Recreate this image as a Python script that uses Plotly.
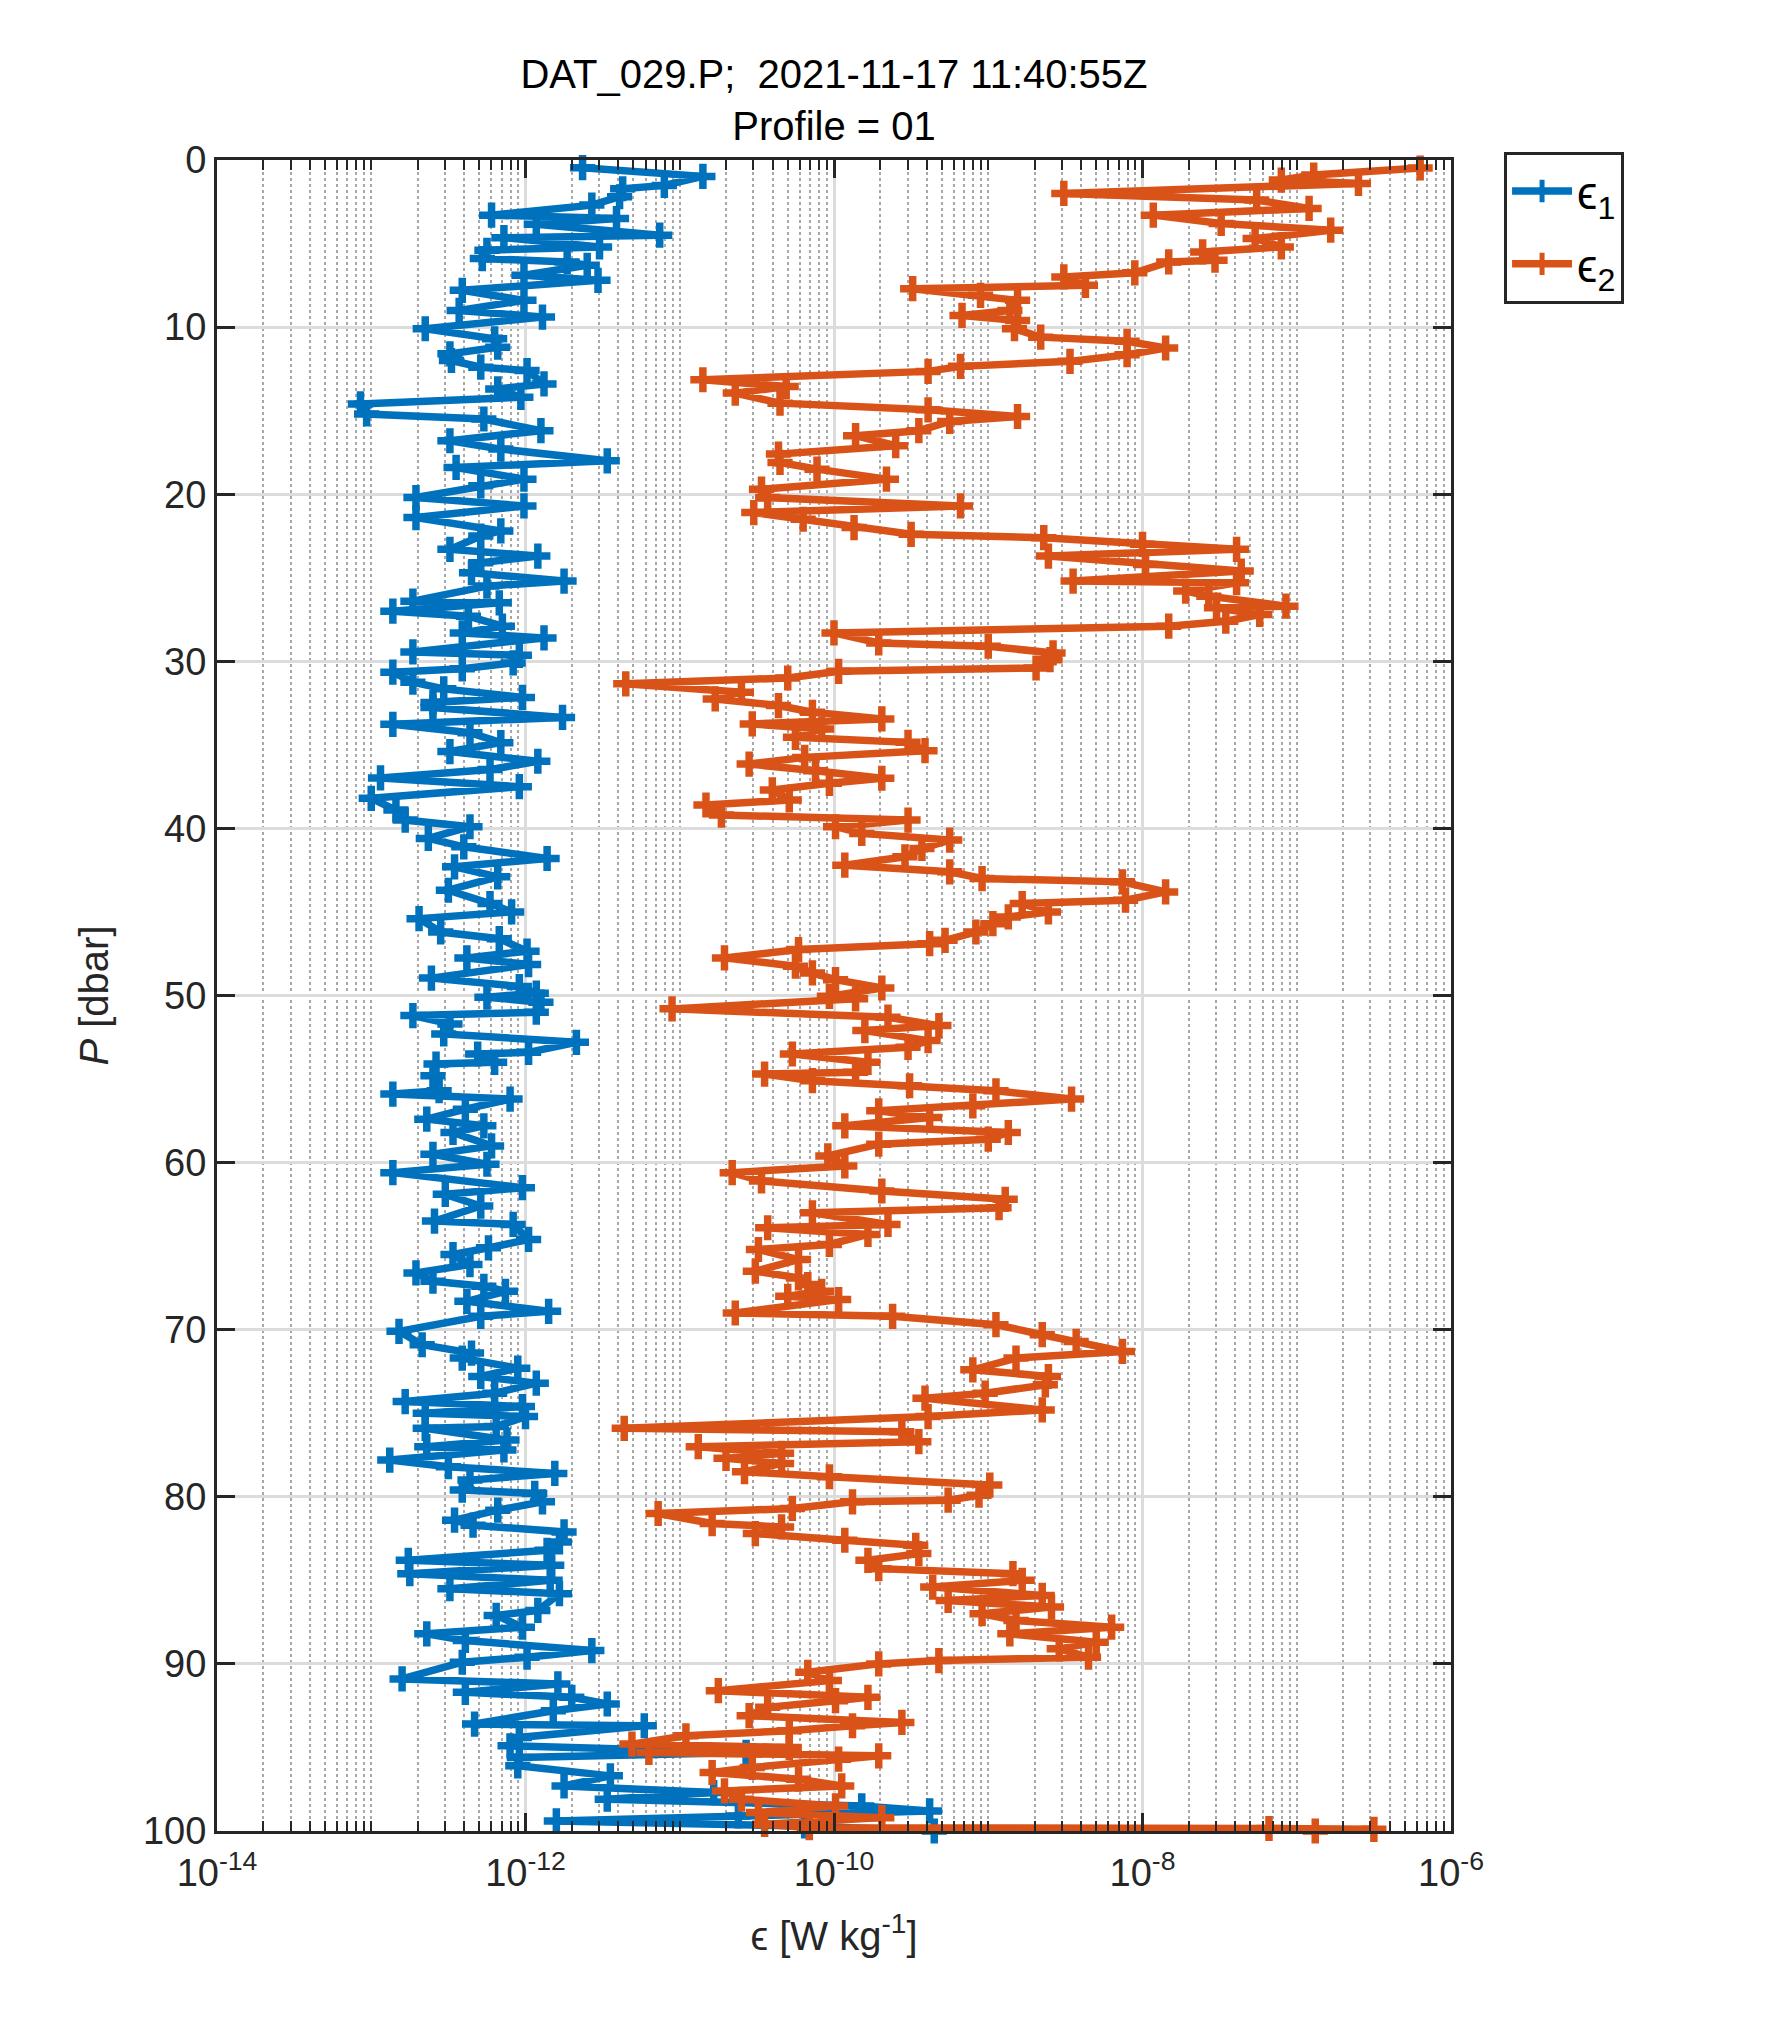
import numpy as np
import plotly.graph_objects as go

# pressure [dbar] and log10(epsilon), shear probe 1
p1 = [0.46, 0.98, 1.52, 1.72, 2.2, 2.7, 3.3, 3.5, 3.85, 4.5, 4.65, 5.2, 5.4, 5.9, 6.1, 6.3,
      6.9, 7.2, 7.8, 8.4, 9.0, 9.4, 10.1, 10.7, 11.2, 11.6, 12.0, 12.4, 12.6, 13.4, 13.7, 14.2,
      14.6, 15.2, 15.5, 16.2, 16.8, 17.3, 18.0, 18.4, 19.1, 19.5, 20.2, 20.7, 21.4, 22.2, 22.5,
      23.3, 23.7, 24.1, 24.7, 25.2, 25.5, 26.4, 26.5, 27.0, 27.3, 27.9, 28.3, 28.6, 29.44,
      29.64, 30.1, 30.45, 30.65, 31.25, 31.65, 32.16, 32.46, 32.76, 33.36, 33.77, 34.27, 34.87,
      35.4, 35.98, 36.48, 36.98, 37.5, 38.2, 38.9, 39.5, 39.9, 40.6, 41.1, 41.8, 42.3, 42.9,
      43.7, 44.5, 45.0, 45.4, 46.2, 46.6, 47.35, 47.75, 48.15, 48.96, 49.46, 49.86, 50.1, 50.4,
      51.0, 51.2, 51.7, 52.3, 52.8, 53.4, 53.5, 54.0, 54.1, 54.8, 55.7, 55.9, 56.2, 56.8, 57.4,
      57.8, 58.2, 59.0, 59.5, 60.1, 60.6, 61.5, 61.9, 62.6, 63.5, 63.7, 64.6, 65.1, 65.5, 66.1,
      66.6, 67.1, 67.4, 67.7, 68.3, 68.9, 69.2, 70.1, 70.9, 71.4, 71.7, 72.3, 72.8, 73.2, 73.8,
      74.3, 74.6, 75.0, 75.2, 75.8, 75.9, 76.6, 77.0, 77.2, 77.8, 78.2, 78.6, 79.0, 79.6, 79.8,
      80.3, 80.8, 81.4, 81.7, 82.1, 82.7, 83.2, 83.8, 84.1, 84.6, 85.0, 85.5, 85.8, 86.8, 87.1,
      87.8, 88.2, 88.6, 89.2, 89.6, 89.9, 90.9, 91.2, 91.7, 92.0, 92.4, 92.8, 93.6, 93.7, 94.4,
      94.9, 95.3, 95.6, 96.1, 96.7, 97.3, 97.7, 98.1, 98.5, 98.8, 99.1, 99.4, 99.7, 100.0]
log_e1 = [-11.63, -10.85, -11.10, -11.37, -11.39, -11.57, -12.22, -11.41, -11.93, -11.13, -12.14,
          -11.52, -12.25, -12.28, -11.73, -11.60, -12.01, -11.53, -12.41, -12.01, -12.43, -11.89,
          -12.65, -12.20, -12.18, -12.49, -12.48, -12.29, -11.99, -11.88, -12.18, -12.03, -13.07,
          -13.03, -12.27, -11.90, -12.49, -12.16, -11.47, -12.45, -12.01, -12.29, -12.71, -12.01,
          -12.71, -12.16, -12.29, -12.49, -11.92, -12.29, -12.35, -11.75, -12.25, -12.73, -12.17,
          -12.86, -12.37, -12.15, -12.41, -11.88, -12.73, -12.04, -12.08, -12.41, -12.86, -12.73,
          -12.53, -12.02, -12.60, -12.60, -11.76, -12.86, -12.36, -12.16, -12.49, -11.92, -12.23,
          -12.94, -12.04, -13.00, -12.84, -12.78, -12.36, -12.63, -12.40, -11.86, -12.46, -12.18,
          -12.50, -12.23, -12.09, -12.69, -12.55, -12.17, -11.99, -12.38, -11.98, -12.61, -12.04,
          -11.93, -12.25, -11.90, -11.93, -12.73, -12.49, -12.53, -11.67, -11.98, -12.31, -12.20,
          -12.58, -12.60, -12.56, -12.86, -12.10, -12.39, -12.64, -12.27, -12.47, -12.22, -12.60,
          -12.25, -12.86, -12.02, -12.52, -12.29, -12.59, -12.08, -11.98, -12.24, -12.47, -12.36,
          -12.71, -12.60, -12.27, -12.13, -12.38, -11.85, -12.29, -12.82, -12.67, -12.35, -12.41,
          -12.05, -12.29, -11.93, -12.20, -12.78, -12.02, -12.65, -12.00, -12.19, -12.65, -12.12,
          -12.64, -12.14, -12.88, -12.50, -11.81, -12.36, -12.41, -11.94, -11.89, -12.18, -12.46,
          -12.34, -11.75, -11.78, -11.86, -12.76, -11.83, -12.75, -11.84, -12.49, -11.78, -11.92,
          -12.19, -12.02, -12.64, -12.39, -11.57, -11.99, -12.41, -12.80, -11.79, -12.39, -11.70,
          -11.47, -11.82, -12.33, -11.23, -12.04, -12.10, -10.57, -12.04, -12.05, -11.45, -11.75,
          -10.78, -11.47, -9.82, -9.38, -10.62, -11.80, -10.19, -9.35]

# shear probe 2
p2 = [0.48, 0.9, 1.2, 1.4, 2.0, 2.4, 2.9, 3.3, 3.8, 4.2, 4.7, 5.2, 5.5, 6.0, 6.1, 6.75, 7.0,
      7.5, 7.7, 8.1, 8.4, 9.0, 9.3, 9.6, 10.1, 10.6, 10.85, 11.25, 11.65, 12.05, 12.35, 12.65,
      13.15, 13.55, 13.95, 14.55, 14.95, 15.35, 15.65, 16.2, 16.5, 17.1, 17.6, 18.1, 18.5, 19.1,
      19.7, 20.2, 20.7, 21.1, 21.5, 22.0, 22.4, 22.6, 23.0, 23.3, 23.7, 24.2, 24.6, 25.2, 25.3,
      25.8, 26.1, 26.7, 26.8, 27.2, 27.6, 27.9, 28.3, 28.9, 29.1, 29.5, 29.9, 30.4, 30.6, 31.0,
      31.35, 31.85, 32.25, 32.65, 33.05, 33.45, 33.75, 34.05, 34.55, 34.85, 35.35, 35.75, 36.15,
      36.55, 37.0, 37.3, 37.7, 38.3, 38.6, 39.2, 39.5, 39.9, 40.3, 40.7, 41.2, 41.7, 42.2, 42.6,
      43.0, 43.2, 43.8, 44.3, 44.5, 45.0, 45.3, 45.7, 46.2, 46.7, 46.9, 47.25, 47.75, 48.25,
      48.65, 49.05, 49.55, 50.05, 50.2, 50.8, 51.3, 51.8, 52.1, 52.7, 53.1, 53.5, 54.0, 54.6,
      54.7, 55.1, 55.4, 55.7, 56.2, 56.6, 56.9, 57.3, 57.8, 58.2, 58.6, 58.9, 59.6, 60.2, 60.6,
      61.1, 61.7, 62.2, 62.7, 63.0, 63.7, 63.9, 64.3, 64.9, 65.2, 65.8, 66.5, 66.9, 67.3, 67.7,
      68.0, 68.2, 69.0, 69.2, 69.7, 70.3, 70.7, 71.3, 71.7, 72.4, 72.8, 73.3, 73.8, 74.1, 74.8,
      75.2, 75.9, 76.1, 76.7, 77.0, 77.4, 77.7, 78.0, 78.5, 78.8, 79.3, 79.9, 80.2, 80.3, 80.7,
      81.0, 81.6, 81.8, 82.2, 82.6, 82.9, 83.4, 83.8, 84.3, 84.6, 85.0, 85.4, 85.9, 86.2, 86.6,
      87.0, 87.4, 87.8, 88.2, 88.7, 89.1, 89.6, 89.8, 90.0, 90.5, 91.0, 91.6, 92.0, 92.2, 92.6,
      93.1, 93.5, 93.7, 94.0, 94.3, 94.8, 95.0, 95.3, 95.5, 95.7, 96.2, 96.5, 96.9, 97.3, 97.6,
      98.1, 98.5, 98.9, 99.2, 99.6, 99.8, 99.85, 99.9, 100.0]
log_e2 = [-6.20, -6.89, -7.10, -6.60, -8.51, -7.26, -6.92, -7.93, -7.49, -6.78, -7.27, -7.10,
          -7.61, -7.53, -7.83, -8.05, -8.51, -8.37, -9.49, -9.05, -8.81, -8.86, -9.17, -8.81,
          -8.83, -8.66, -8.10, -7.85, -8.10, -8.47, -9.18, -9.39, -10.85, -10.31, -10.64, -10.35,
          -9.39, -8.81, -9.25, -9.45, -9.86, -9.60, -10.36, -10.35, -10.11, -9.66, -10.47, -10.43,
          -9.18, -10.52, -10.20, -9.87, -9.50, -8.64, -8.00, -7.39, -8.61, -7.98, -7.36, -8.45,
          -7.39, -7.72, -7.57, -7.07, -7.52, -7.24, -7.46, -7.83, -10.00, -9.71, -9.00, -8.58,
          -8.60, -8.69, -9.97, -10.30, -11.35, -10.60, -10.77, -10.36, -10.14, -9.69, -10.53,
          -10.08, -10.25, -9.52, -9.41, -10.19, -10.55, -10.12, -9.69, -10.03, -10.40, -10.29,
          -10.83, -10.73, -9.52, -9.99, -9.82, -9.25, -9.43, -9.54, -9.93, -9.25, -9.04, -8.13,
          -7.85, -8.11, -8.78, -8.61, -8.87, -8.97, -9.08, -9.28, -9.38, -10.23, -10.71, -10.25,
          -10.14, -9.99, -9.69, -10.03, -9.86, -11.05, -9.65, -9.32, -9.80, -9.39, -9.52, -10.27,
          -9.78, -9.86, -10.45, -10.14, -9.51, -8.95, -8.46, -9.10, -9.71, -9.38, -9.93, -8.87,
          -9.00, -9.71, -10.04, -9.93, -10.66, -10.47, -9.69, -8.89, -8.93, -10.14, -9.65, -10.43,
          -9.78, -10.03, -10.49, -10.23, -10.51, -10.23, -10.17, -10.08, -10.30, -9.97, -10.64,
          -9.62, -8.95, -8.65, -8.43, -8.13, -8.82, -9.10, -8.61, -8.63, -9.02, -9.41, -8.65,
          -9.39, -11.36, -9.56, -9.45, -10.88, -10.34, -10.70, -10.34, -10.58, -10.03, -8.99,
          -9.06, -9.26, -9.88, -10.27, -11.14, -10.79, -10.34, -10.51, -9.93, -9.47, -9.45, -9.78,
          -9.71, -8.84, -8.78, -9.36, -8.65, -9.26, -8.59, -9.04, -8.82, -8.20, -8.86, -8.30,
          -8.54, -8.35, -9.32, -9.71, -10.17, -10.03, -10.75, -9.78, -9.99, -10.43, -10.55, -9.56,
          -9.88, -10.29, -10.96, -11.31, -10.29, -11.20, -9.71, -9.97, -10.53, -10.79, -10.23,
          -9.95, -10.71, -10.60, -9.99, -10.49, -9.69, -10.45, -10.16, -7.18, -6.50, -6.88]

x_major = [-14, -12, -10, -8, -6]
x_ticktext = ["10<sup>-14</sup>", "10<sup>-12</sup>", "10<sup>-10</sup>",
              "10<sup>-8</sup>", "10<sup>-6</sup>"]
y_ticks = [0, 10, 20, 30, 40, 50, 60, 70, 80, 90, 100]

FONT = "Liberation Sans, Arial, Helvetica, sans-serif"
TXT = "#262626"
BLUE = "#0072BD"
ORANGE = "#D95319"

# minor grid: every digit of each decade plus the odd decades
minor_vals = []
for d in range(-14, -6):
    for k in range(1, 10):
        if k == 1 and d % 2 == 0:
            continue
        minor_vals.append(k * 10.0 ** d)

fig = go.Figure()
for p, le, col, name in [(p1, log_e1, BLUE, "ϵ<sub>1</sub>"),
                         (p2, log_e2, ORANGE, "ϵ<sub>2</sub>")]:
    fig.add_trace(go.Scatter(
        x=10 ** np.array(le), y=p, mode="lines+markers", name=name,
        legendgroup=name,
        line=dict(color=col, width=7.5),
        marker=dict(symbol="cross-thin", size=18, color=col,
                    line=dict(color=col, width=7.5)),
        cliponaxis=False,
    ))

fig.update_layout(
    width=1772, height=2042,
    margin=dict(l=209, r=329, t=152, b=219),
    paper_bgcolor="white", plot_bgcolor="white",
    font=dict(family=FONT, size=38, color=TXT),
    title=dict(text="DAT_029.P;\u00a0 2021-11-17 11:40:55Z<br>Profile = 01",
               x=0.5, xref="paper", xanchor="center",
               y=1 - 80 / 2042, yref="container", yanchor="top",
               font=dict(family=FONT, size=40, color="black")),
    showlegend=True,
    legend=dict(x=1.043, y=1.005, xanchor="left", yanchor="top",
                bgcolor="white", bordercolor=TXT, borderwidth=3,
                font=dict(family=FONT, size=46, color="black"),
                tracegroupgap=10, itemwidth=60),
)

fig.update_xaxes(
    type="log", range=[-14, -6],
    tickmode="array", tickvals=[10.0 ** v for v in x_major], ticktext=x_ticktext,
    ticks="inside", ticklen=18, tickwidth=2.5, tickcolor=TXT,
    showline=True, linecolor=TXT, linewidth=3, mirror="ticks",
    showgrid=True, gridcolor="#dcdcdc", gridwidth=2.5,
    minor=dict(tickmode="array", tickvals=minor_vals, ticks="inside", ticklen=10,
               tickwidth=2, tickcolor=TXT, showgrid=True, gridcolor="#a8a8a8",
               griddash="dot", gridwidth=2),
    tickfont=dict(family=FONT, size=38, color=TXT),
    ticklabelstandoff=6,
    title=dict(text="ϵ [W kg<sup>-1</sup>]", standoff=30,
               font=dict(family=FONT, size=40, color=TXT)),
    zeroline=False, automargin=False,
)
fig.update_yaxes(
    range=[100, 0], tickmode="array", tickvals=y_ticks,
    ticks="inside", ticklen=18, tickwidth=2.5, tickcolor=TXT,
    showline=True, linecolor=TXT, linewidth=3, mirror="ticks",
    showgrid=True, gridcolor="#dcdcdc", gridwidth=2.5,
    tickfont=dict(family=FONT, size=38, color=TXT),
    title=dict(text="<i>P</i> [dbar]", standoff=22,
               font=dict(family=FONT, size=40, color=TXT)),
    zeroline=False, automargin=False,
)

fig.write_html("out.html")
